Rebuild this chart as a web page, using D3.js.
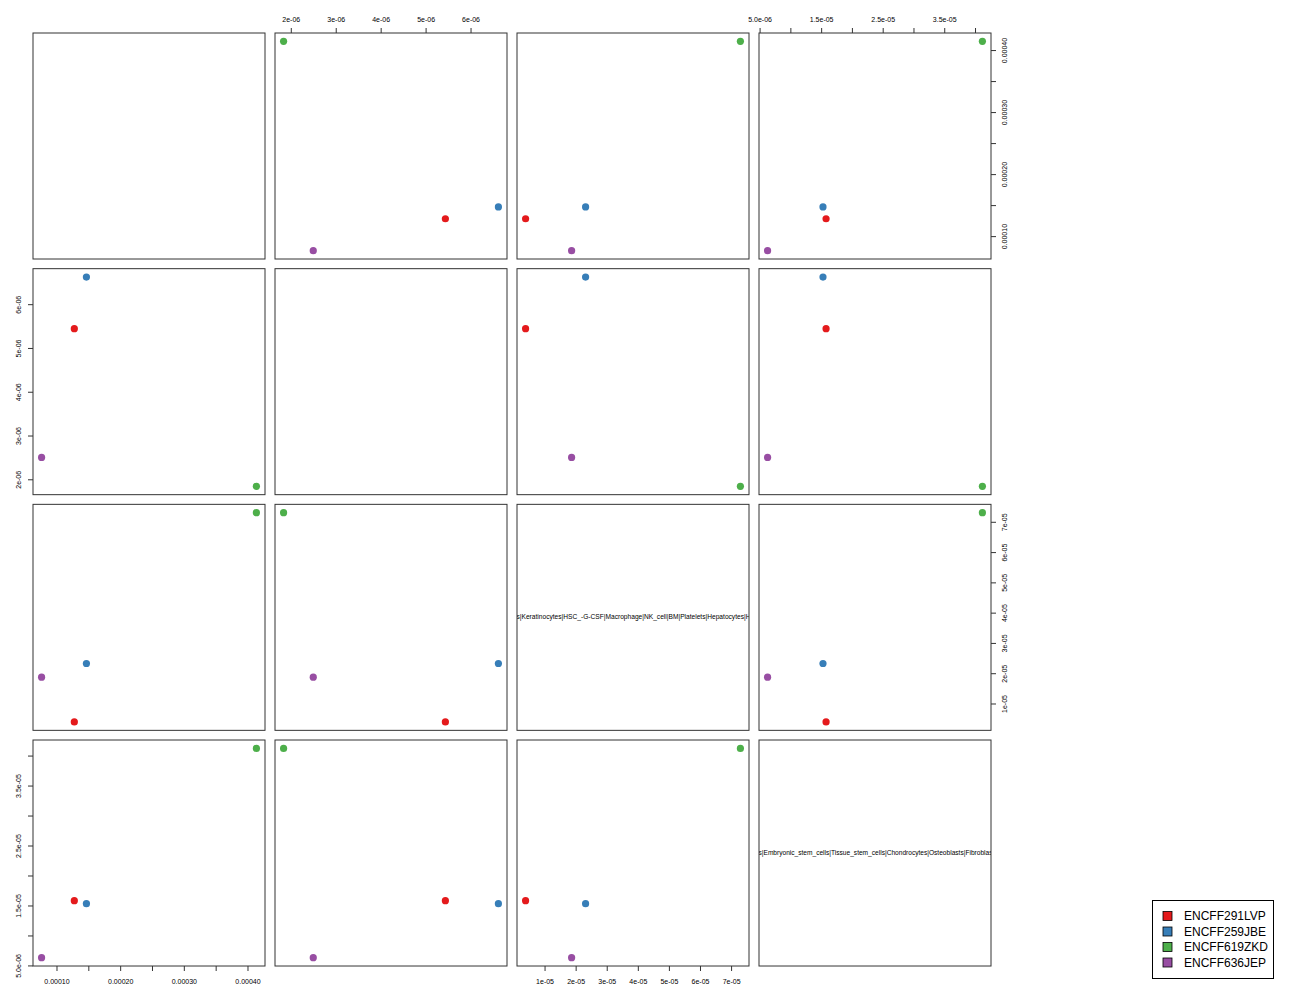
<!DOCTYPE html>
<html><head><meta charset="utf-8">
<script src="https://cdn.jsdelivr.net/npm/d3@7"></script>
<style>body{margin:0;background:#fff}svg{display:block}text{font-family:"Liberation Sans",Arial,sans-serif}</style>
</head><body>
<script>
const samples = ["ENCFF291LVP","ENCFF259JBE","ENCFF619ZKD","ENCFF636JEP"];
const colors  = ["#E41A1C","#377EB8","#4DAF4A","#984EA3"];
// variable values (one entry per sample)
const var1 = [0.000128, 0.000147, 0.000414, 0.0000766];
const var2 = [5.44e-6, 6.62e-6, 1.84e-6, 2.50e-6];
const var3 = [3.9e-6, 2.32e-5, 7.30e-5, 1.87e-5];
const var4 = [1.58e-5, 1.53e-5, 4.12e-5, 6.3e-6];
const diagLabels = ["", "",
  "s|Keratinocytes|HSC_-G-CSF|Macrophage|NK_cell|BM|Platelets|Hepatocytes|H",
  "s|Embryonic_stem_cells|Tissue_stem_cells|Chondrocytes|Osteoblasts|Fibroblas"];
const ticks1 = [0.00010,0.00015,0.00020,0.00025,0.00030,0.00035,0.00040];
const tickLabels1 = ["0.00010","","0.00020","","0.00030","","0.00040"];
const ticks2 = [2e-6,3e-6,4e-6,5e-6,6e-6];
const tickLabels2 = ["2e-06","3e-06","4e-06","5e-06","6e-06"];
const ticks3 = [1e-5,2e-5,3e-5,4e-5,5e-5,6e-5,7e-5];
const tickLabels3 = ["1e-05","2e-05","3e-05","4e-05","5e-05","6e-05","7e-05"];
const ticks4 = [5e-6,1e-5,1.5e-5,2e-5,2.5e-5,3e-5,3.5e-5,4e-5];
const tickLabels4 = ["5.0e-06","","1.5e-05","","2.5e-05","","3.5e-05",""];

const vars = [var1,var2,var3,var4];
const ticks = [ticks1,ticks2,ticks3,ticks4];
const tlabels = [tickLabels1,tickLabels2,tickLabels3,tickLabels4];
const n = 4;
const W = 1300, H = 1000;
const left0 = 33, top0 = 33, pw = 232, ph = 226, stepX = 242, stepY = 235.67;

const svg = d3.select("body").append("svg").attr("width",W).attr("height",H);

function dom(v){ const mn=d3.min(v), mx=d3.max(v), e=(mx-mn)*0.04; return [mn-e, mx+e]; }
const xs = vars.map((v,k)=>d3.scaleLinear().domain(dom(v)).range([left0+k*stepX, left0+k*stepX+pw]));
const ys = vars.map((v,k)=>d3.scaleLinear().domain(dom(v)).range([top0+k*stepY+ph, top0+k*stepY]));

const defs = svg.append("defs");
for (let i=0;i<n;i++){
  defs.append("clipPath").attr("id","clip"+i).append("rect")
    .attr("x",left0+i*stepX).attr("y",top0+i*stepY).attr("width",pw).attr("height",ph);
}

for (let i=0;i<n;i++){        // row -> y var
  for (let j=0;j<n;j++){      // col -> x var
    const x0 = left0+j*stepX, y0 = top0+i*stepY;
    const g = svg.append("g");
    if (i===j){
      g.append("text").attr("clip-path","url(#clip"+i+")")
        .attr("x",x0-0.5).attr("y",y0+ph/2+2).attr("text-anchor","start")
        .attr("font-size",6.5).attr("fill","#000")
        .attr("textLength", diagLabels[i] ? 234 : null)
        .attr("lengthAdjust","spacingAndGlyphs")
        .text(diagLabels[i]);
    } else {
      g.selectAll("circle").data(samples.map((s,k)=>k)).join("circle")
        .attr("cx",k=>xs[j](vars[j][k])).attr("cy",k=>ys[i](vars[i][k]))
        .attr("r",3.6).attr("fill",k=>colors[k]);
    }
    g.append("rect").attr("x",x0).attr("y",y0).attr("width",pw).attr("height",ph)
      .attr("fill","none").attr("stroke","#333").attr("stroke-width",1);
  }
}

function tickFmt(k){ return (d,idx)=>tlabels[k][idx]; }
// top axes (even columns, 2 and 4), bottom axes (odd columns)
for (let j=0;j<n;j++){
  const top = (j%2===1);
  const ax = (top ? d3.axisTop(xs[j]) : d3.axisBottom(xs[j]))
    .tickValues(ticks[j]).tickFormat(tickFmt(j)).tickSize(5).tickPadding(top ? 6 : 8);
  const yPos = top ? top0 : top0+(n-1)*stepY+ph;
  const g = svg.append("g").attr("transform",`translate(0,${yPos})`).call(ax);
  g.select(".domain").remove();
  g.selectAll("text").attr("font-size",7).attr("font-family","Liberation Sans, Arial, sans-serif").attr("fill","#000");
  g.selectAll("line").attr("stroke","#333");
}
// left axes (even rows), right axes (odd rows)
for (let i=0;i<n;i++){
  const right = (i%2===0);
  const ax = (right ? d3.axisRight(ys[i]) : d3.axisLeft(ys[i]))
    .tickValues(ticks[i]).tickFormat(tickFmt(i)).tickSize(5).tickPadding(4);
  const xPos = right ? left0+(n-1)*stepX+pw : left0;
  const g = svg.append("g").attr("transform",`translate(${xPos},0)`).call(ax);
  g.select(".domain").remove();
  g.selectAll("line").attr("stroke","#333");
  g.selectAll("text").attr("font-size",7).attr("font-family","Liberation Sans, Arial, sans-serif").attr("fill","#000")
    .attr("text-anchor","middle")
    .each(function(){
      const t = d3.select(this);
      const off = right ? 14 : -14;
      t.attr("x",0).attr("y",0).attr("dy","0.35em")
       .attr("transform",`translate(${off},0) rotate(-90)`);
    });
}

// legend
const lg = svg.append("g");
lg.append("rect").attr("x",1152.5).attr("y",900.5).attr("width",121).attr("height",78)
  .attr("fill","#fff").attr("stroke","#000").attr("stroke-width",1);
const lgY = d3.scalePoint().domain(samples).range([916,962.5]);
lg.selectAll("rect.sw").data(samples).join("rect").attr("class","sw")
  .attr("x",1163).attr("y",d=>lgY(d)-4.5).attr("width",9).attr("height",9)
  .attr("fill",(d,k)=>colors[k]).attr("stroke","#000").attr("stroke-width",0.8);
lg.selectAll("text").data(samples).join("text")
  .attr("x",1184).attr("y",d=>lgY(d)).attr("dy","0.36em")
  .attr("font-size",12).attr("fill","#000").text(d=>d);
</script>
</body></html>
